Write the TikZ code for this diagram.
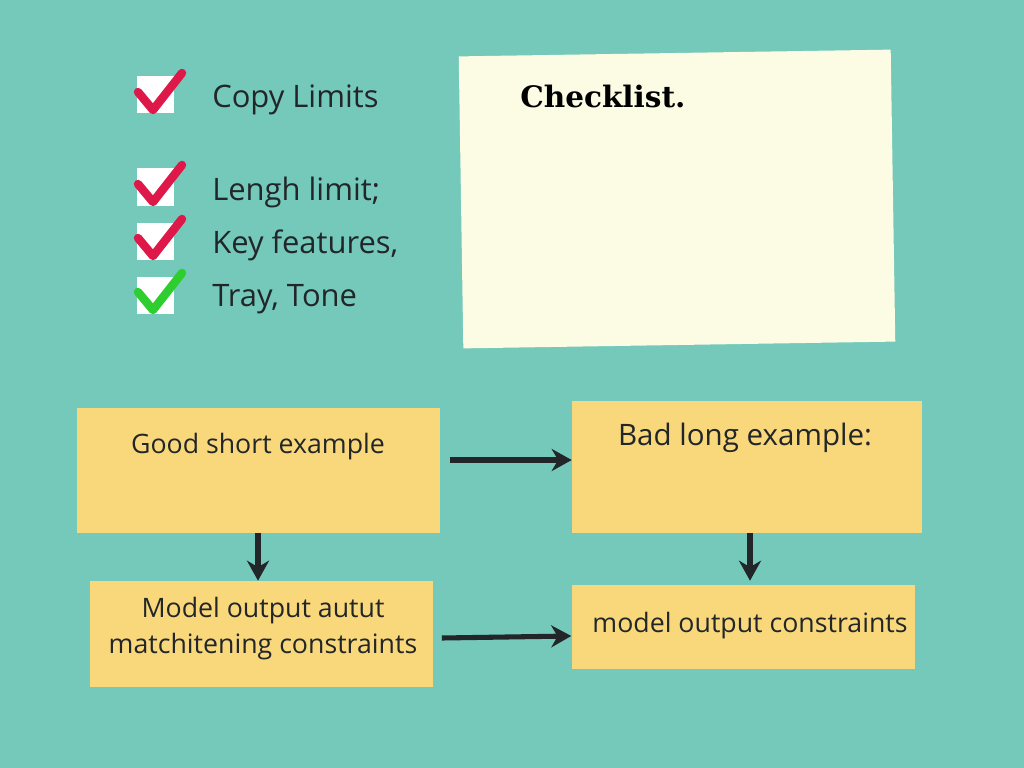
\documentclass[tikz,border=0pt]{standalone}
\usepackage{fontspec}
\setmainfont{Open Sans}
\newfontfamily\slabfont{DejaVu Serif}
\usetikzlibrary{positioning, arrows.meta, calc}

\definecolor{bgteal}{RGB}{116,201,187}
\definecolor{notepaper}{RGB}{252,251,228}
\definecolor{stickyyellow}{RGB}{249,216,124}
\definecolor{inkdark}{RGB}{34,38,40}
\definecolor{tickred}{RGB}{222,24,72}
\definecolor{tickgreen}{RGB}{46,206,46}

\begin{document}
\begin{tikzpicture}[
    x=0.025cm, y=-0.025cm,
    checkbox/.style={
        fill=white,
        draw=none,
        minimum size=37*0.025cm,
        inner sep=0pt
    },
    tickline/.style={
        line width=6pt,
        line cap=round,
        line join=round
    },
    itemtext/.style={
        font=\fontsize{22}{26}\selectfont,
        text=inkdark,
        anchor=base west,
        inner sep=0pt
    },
    panel/.style={
        fill=notepaper,
        draw=none,
        inner sep=0pt,
        rotate=0.9
    },
    sticky/.style={
        fill=stickyyellow,
        draw=none,
        inner sep=0pt
    },
    stickytext/.style={
        font=\fontsize{19}{25}\selectfont,
        text=inkdark,
        align=center,
        anchor=base,
        inner sep=0pt
    },
    flowarrow/.style={
        -{Stealth[length=5mm, width=5.5mm, inset=1.6mm]},
        line width=3.6pt,
        draw=inkdark
    }
]

% --- Background -----------------------------------------------------------
\fill[bgteal] (0,0) rectangle (1024,768);
\useasboundingbox (0,0) rectangle (1024,768);

% --- Check list (top left) ------------------------------------------------
\foreach \i/\y/\b/\col/\txt in {1/95/108/tickred/{Copy Limits},
                                2/187/200/tickred/{Lengh limit;},
                                3/241/253/tickred/{Key features,},
                                4/295/306/tickgreen/{Tray, Tone}} {
    \node[checkbox] (cb\i) at (155,\y) {};
    \draw[tickline, draw=\col]
        ([shift={(-17,-3)}]cb\i.center) --
        ([shift={(-2,15)}]cb\i.center) --
        ([shift={(27,-22)}]cb\i.center);
    \node[itemtext] (item\i) at (212,\b) {\txt};
}

% --- Checklist panel (top right) ------------------------------------------
\node[panel, minimum width=432*0.025cm, minimum height=292*0.025cm]
    (checkpanel) at (677,199) {};
\node[font=\slabfont\bfseries\fontsize{21}{25}\selectfont,
      anchor=base west, inner sep=0pt]
    (checktitle) at (520,108) {Checklist.};

% --- Sticky notes ---------------------------------------------------------
\node[sticky, minimum width=363*0.025cm, minimum height=125*0.025cm]
    (good) at (258,470) {};
\node[stickytext] (goodtxt) at (258,453) {Good short example};

\node[sticky, minimum width=350*0.025cm, minimum height=132*0.025cm]
    (bad) at (747,467) {};
\node[stickytext, font=\fontsize{21}{26}\selectfont]
    (badtxt) at (745,445) {Bad long example:};

\node[sticky, minimum width=343*0.025cm, minimum height=106*0.025cm]
    (goodout) at (261,634) {};
\node[stickytext] (goodouttxt) at (263,653)
    {Model output autut\\matchitening constraints};

\node[sticky, minimum width=343*0.025cm, minimum height=84*0.025cm]
    (badout) at (743,627) {};
\node[stickytext] (badouttxt) at (750,632) {model output constraints};

% --- Arrows ---------------------------------------------------------------
\draw[flowarrow]
    ([xshift=10*0.025cm, yshift=10*0.025cm]good.east) --
    ([yshift=7*0.025cm]bad.west);
\draw[flowarrow] (good.south) -- (good.south |- goodout.north);
\draw[flowarrow]
    ([xshift=3*0.025cm]bad.south) --
    ([xshift=3*0.025cm]bad.south |- goodout.north);
\draw[flowarrow]
    ([xshift=9*0.025cm, yshift=-4*0.025cm]goodout.east) --
    ([yshift=-9*0.025cm]badout.west);

\end{tikzpicture}
\end{document}
